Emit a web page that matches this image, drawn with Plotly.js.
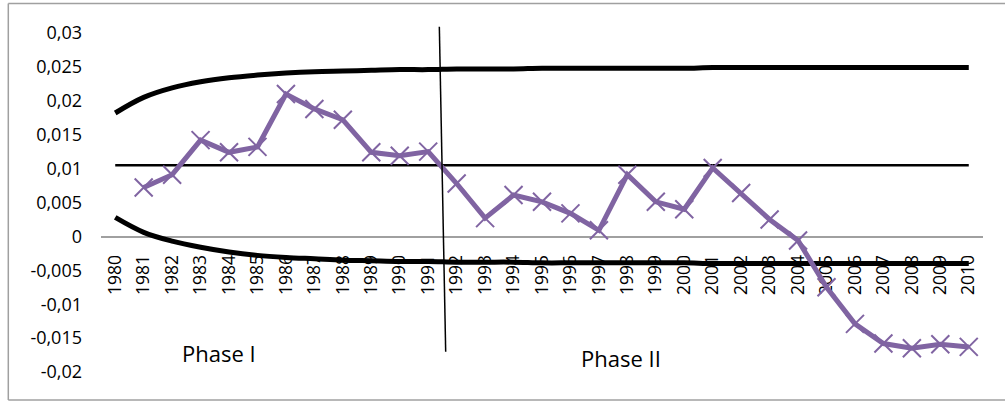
<!DOCTYPE html>
<html>
<head>
<meta charset="utf-8">
<script src="https://cdn.plot.ly/plotly-3.0.1.min.js"></script>
<style>
  html, body { margin: 0; padding: 0; background: #fff; }
  #chart { width: 1005px; height: 401px; }
</style>
</head>
<body>
<div id="chart"></div>
<script>
var years = ['1980','1981','1982','1983','1984','1985','1986','1987','1988','1989',
             '1990','1991','1992','1993','1994','1995','1996','1997','1998','1999',
             '2000','2001','2002','2003','2004','2005','2006','2007','2008','2009','2010'];

var statValues = [null, 0.0072, 0.0091, 0.0142, 0.0124, 0.0132, 0.0210, 0.0188, 0.0172, 0.0124,
                  0.0119, 0.0125, 0.0078, 0.0027, 0.0061, 0.0051, 0.0034, 0.0009, 0.0091, 0.0051,
                  0.0040, 0.0101, 0.0064, 0.0025, -0.0006, -0.0075, -0.0129, -0.0158, -0.0165, -0.0159, -0.0163];

var upperBound = [0.0182, 0.0205, 0.0219, 0.0228, 0.0234, 0.0238, 0.0241, 0.0243, 0.0244, 0.0245,
                  0.0246, 0.0246, 0.0247, 0.0247, 0.0247, 0.0248, 0.0248, 0.0248, 0.0248, 0.0248,
                  0.0248, 0.0249, 0.0249, 0.0249, 0.0249, 0.0249, 0.0249, 0.0249, 0.0249, 0.0249, 0.0249];

var lowerBound = [0.0028, 0.0006, -0.0007, -0.0016, -0.0023, -0.0028, -0.0031, -0.0033, -0.0035, -0.0036,
                  -0.0037, -0.0037, -0.0038, -0.0038, -0.0038, -0.0039, -0.0039, -0.0039, -0.0039, -0.0039,
                  -0.0039, -0.0040, -0.0040, -0.0040, -0.0040, -0.0040, -0.0040, -0.0040, -0.0040, -0.0040, -0.0040];

var midLevel = [0.0105, 0.0105];
var midYears = ['1980', '2010'];

var yTickVals = [0.03, 0.025, 0.02, 0.015, 0.01, 0.005, 0, -0.005, -0.01, -0.015, -0.02];
var yTickLabels = ['0,03', '0,025', '0,02', '0,015', '0,01', '0,005', '0', '-0,005', '-0,01', '-0,015', '-0,02'];

var phaseLabels = ['Phase I', 'Phase II'];

var FONT = 'Open Sans, sans-serif';
var PURPLE = '#8064A2';
var BORDER = '#a0a0a0';

var traces = [
  {
    x: years, y: upperBound, type: 'scatter', mode: 'lines',
    line: { color: '#000', width: 5, shape: 'spline', smoothing: 1 },
    hoverinfo: 'skip'
  },
  {
    x: years, y: lowerBound, type: 'scatter', mode: 'lines',
    line: { color: '#000', width: 5, shape: 'spline', smoothing: 1 },
    hoverinfo: 'skip'
  },
  {
    x: midYears, y: midLevel, type: 'scatter', mode: 'lines',
    line: { color: '#000', width: 2.5 },
    hoverinfo: 'skip'
  },
  {
    x: years, y: statValues, type: 'scatter', mode: 'lines+markers',
    line: { color: PURPLE, width: 5 },
    marker: { symbol: 'x-thin', size: 18, color: PURPLE, line: { color: PURPLE, width: 2 } },
    connectgaps: false
  }
];

var layout = {
  width: 1005, height: 401,
  margin: { l: 101, r: 22, t: 33, b: 29, pad: 0 },
  paper_bgcolor: '#fff', plot_bgcolor: '#fff',
  showlegend: false,
  font: { family: FONT, size: 18, color: '#000' },
  xaxis: {
    type: 'category',
    categoryorder: 'array', categoryarray: years,
    range: [-0.5, 30.5],
    anchor: 'free', position: 0.4,
    showline: true, linecolor: BORDER, linewidth: 1.5,
    showgrid: false, zeroline: false,
    ticks: '', tickangle: -90,
    ticklabelstandoff: 10,
    tickfont: { family: FONT, size: 17.5, color: '#000' },
    layer: 'below traces',
    fixedrange: true
  },
  yaxis: {
    range: [-0.02, 0.03],
    tickvals: yTickVals, ticktext: yTickLabels,
    showline: false, showgrid: false, zeroline: false,
    ticks: '', ticklabelstandoff: 18,
    tickfont: { family: FONT, size: 18, color: '#000' },
    fixedrange: true
  },
  shapes: [
    { type: 'line', xref: 'paper', yref: 'paper', x0: 0.3836, y0: 1.0186, x1: 0.3908, y1: 0.0599,
      line: { color: '#000', width: 1.5 } },
    { type: 'line', xref: 'paper', yref: 'paper', x0: -0.1051, y0: 1.087, x1: 1.03, y1: 1.087,
      line: { color: BORDER, width: 1.5 } },
    { type: 'line', xref: 'paper', yref: 'paper', x0: -0.1051, y0: 1.087, x1: -0.1051, y1: -0.0826,
      line: { color: BORDER, width: 1.5 } },
    { type: 'line', xref: 'paper', yref: 'paper', x0: -0.1051, y0: -0.0826, x1: 1.03, y1: -0.0826,
      line: { color: BORDER, width: 1.5 } }
  ],
  annotations: [
    { text: phaseLabels[0], xref: 'paper', yref: 'paper', x: 0.1338, y: 0.056,
      showarrow: false, xanchor: 'center', yanchor: 'middle',
      font: { family: FONT, size: 22, color: '#000' } },
    { text: phaseLabels[1], xref: 'paper', yref: 'paper', x: 0.5896, y: 0.0413,
      showarrow: false, xanchor: 'center', yanchor: 'middle',
      font: { family: FONT, size: 22, color: '#000' } }
  ]
};

Plotly.newPlot('chart', traces, layout, { displayModeBar: false, staticPlot: true });
</script>
</body>
</html>
